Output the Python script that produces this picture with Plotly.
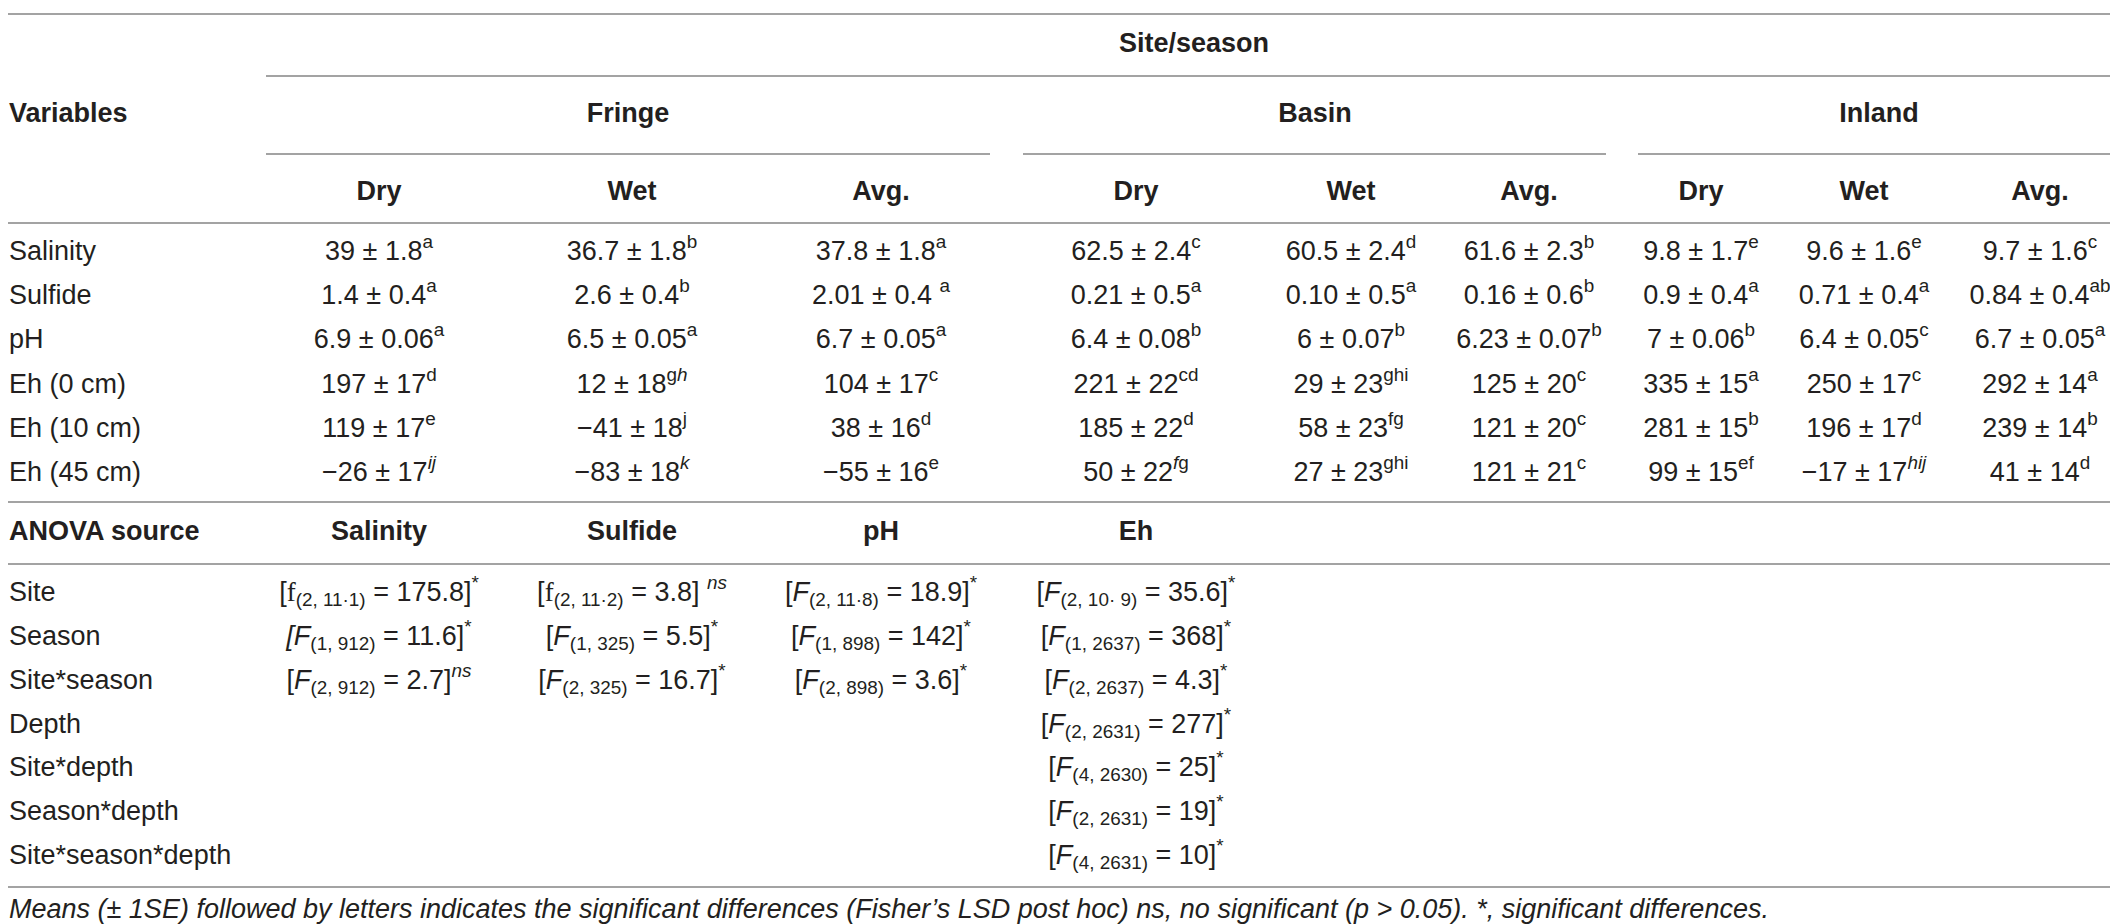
import plotly.graph_objects as go

# ---- data ----
variables = ["Salinity", "Sulfide", "pH", "Eh (0 cm)", "Eh (10 cm)", "Eh (45 cm)"]
sites = ["Fringe", "Basin", "Inland"]
seasons = ["Dry", "Wet", "Avg."]

fringe_dry = ["39 ± 1.8<sup>a</sup>", "1.4 ± 0.4<sup>a</sup>", "6.9 ± 0.06<sup>a</sup>",
              "197 ± 17<sup>d</sup>", "119 ± 17<sup>e</sup>", "−26 ± 17<sup><i>ij</i></sup>"]
fringe_wet = ["36.7 ± 1.8<sup>b</sup>", "2.6 ± 0.4<sup>b</sup>", "6.5 ± 0.05<sup>a</sup>",
              "12 ± 18<sup>g<i>h</i></sup>", "−41 ± 18<sup>j</sup>", "−83 ± 18<sup><i>k</i></sup>"]
fringe_avg = ["37.8 ± 1.8<sup>a</sup>", "2.01 ± 0.4 <sup>a</sup>", "6.7 ± 0.05<sup>a</sup>",
              "104 ± 17<sup>c</sup>", "38 ± 16<sup>d</sup>", "−55 ± 16<sup>e</sup>"]
basin_dry = ["62.5 ± 2.4<sup>c</sup>", "0.21 ± 0.5<sup>a</sup>", "6.4 ± 0.08<sup>b</sup>",
             "221 ± 22<sup>cd</sup>", "185 ± 22<sup>d</sup>", "50 ± 22<sup><i>f</i>g</sup>"]
basin_wet = ["60.5 ± 2.4<sup>d</sup>", "0.10 ± 0.5<sup>a</sup>", "6 ± 0.07<sup>b</sup>",
             "29 ± 23<sup>ghi</sup>", "58 ± 23<sup>fg</sup>", "27 ± 23<sup>ghi</sup>"]
basin_avg = ["61.6 ± 2.3<sup>b</sup>", "0.16 ± 0.6<sup>b</sup>", "6.23 ± 0.07<sup>b</sup>",
             "125 ± 20<sup>c</sup>", "121 ± 20<sup>c</sup>", "121 ± 21<sup>c</sup>"]
inland_dry = ["9.8 ± 1.7<sup>e</sup>", "0.9 ± 0.4<sup>a</sup>", "7 ± 0.06<sup>b</sup>",
              "335 ± 15<sup>a</sup>", "281 ± 15<sup>b</sup>", "99 ± 15<sup>ef</sup>"]
inland_wet = ["9.6 ± 1.6<sup>e</sup>", "0.71 ± 0.4<sup>a</sup>", "6.4 ± 0.05<sup>c</sup>",
              "250 ± 17<sup>c</sup>", "196 ± 17<sup>d</sup>", "−17 ± 17<sup><i>hij</i></sup>"]
inland_avg = ["9.7 ± 1.6<sup>c</sup>", "0.84 ± 0.4<sup>ab</sup>", "6.7 ± 0.05<sup>a</sup>",
              "292 ± 14<sup>a</sup>", "239 ± 14<sup>b</sup>", "41 ± 14<sup>d</sup>"]

anova_sources = ["Site", "Season", "Site*season", "Depth", "Site*depth", "Season*depth", "Site*season*depth"]
anova_vars = ["Salinity", "Sulfide", "pH", "Eh"]
SERIF_F = '<span style="font-family:Liberation Serif">f</span>'
anova_salinity = ["[" + SERIF_F + "<sub>(2, 11·1)</sub> = 175.8]<sup>*</sup>",
                  "<i>[F</i><sub>(1, 912)</sub> = 11.6]<sup>*</sup>",
                  "[<i>F</i><sub>(2, 912)</sub> = 2.7]<sup><i>ns</i></sup>", "", "", "", ""]
anova_sulfide = ["[" + SERIF_F + "<sub>(2, 11·2)</sub> = 3.8] <sup><i>ns</i></sup>",
                 "[<i>F</i><sub>(1, 325)</sub> = 5.5]<sup>*</sup>",
                 "[<i>F</i><sub>(2, 325)</sub> = 16.7]<sup>*</sup>", "", "", "", ""]
anova_ph = ["[<i>F</i><sub>(2, 11·8)</sub> = 18.9]<sup>*</sup>",
            "[<i>F</i><sub>(1, 898)</sub> = 142]<sup>*</sup>",
            "[<i>F</i><sub>(2, 898)</sub> = 3.6]<sup>*</sup>", "", "", "", ""]
anova_eh = ["[<i>F</i><sub>(2, 10· 9)</sub> = 35.6]<sup>*</sup>",
            "[<i>F</i><sub>(1, 2637)</sub> = 368]<sup>*</sup>",
            "[<i>F</i><sub>(2, 2637)</sub> = 4.3]<sup>*</sup>",
            "[<i>F</i><sub>(2, 2631)</sub> = 277]<sup>*</sup>",
            "[<i>F</i><sub>(4, 2630)</sub> = 25]<sup>*</sup>",
            "[<i>F</i><sub>(2, 2631)</sub> = 19]<sup>*</sup>",
            "[<i>F</i><sub>(4, 2631)</sub> = 10]<sup>*</sup>"]

footnote = ("Means (± 1SE) followed by letters indicates the significant differences "
            "(Fisher’s LSD post hoc) ns, no significant (p > 0.05). *, significant differences.")

# ---- layout (pixel positions) ----
W, H = 2118, 924
TXT = "#231f20"
RULE = "#a3a3a3"
FONT = "Liberation Sans"
FS = 27

label_x = 1
col_x = [371, 624, 873, 1128, 1343, 1521, 1693, 1856, 2032]
site_x = [620, 1307, 1871]
site_spans = [(258, 982), (1015, 1598), (1630, 2118)]
y_title, y_site, y_season = 37, 107, 185
row_y = [245, 289, 333, 378, 422, 466]
y_anova_head = 525
anova_y = [586, 630, 674, 718, 761, 805, 849]
y_foot = 903
full_rules = [6, 215, 494, 556, 879]
y_site_rule, y_sub_rule = 68, 146

fig = go.Figure()

# rules, drawn as one line trace broken by None gaps
segments = [(0, W, y) for y in full_rules] + [(258, W, y_site_rule)]
segments += [(x0, x1, y_sub_rule) for x0, x1 in site_spans]
rx, ry = [], []
for x0, x1, y in segments:
    rx += [x0, x1, None]
    ry += [y, y, None]
fig.add_trace(go.Scatter(x=rx, y=ry, mode="lines", line=dict(color=RULE, width=2),
                         hoverinfo="skip", showlegend=False))


def add_text(xs, ys, texts, pos="middle center", bold=False, size=FS):
    if bold:
        texts = ["<b>" + t + "</b>" if t else t for t in texts]
    fig.add_trace(go.Scatter(x=xs, y=ys, mode="text", text=texts, textposition=pos,
                             textfont=dict(family=FONT, size=size, color=TXT),
                             hoverinfo="skip", showlegend=False))


# headers
add_text([1186], [y_title], ["Site/season"], bold=True)
add_text([label_x], [y_site], ["Variables"], pos="middle right", bold=True)
add_text(site_x, [y_site] * 3, sites, bold=True)
add_text(col_x, [y_season] * 9, seasons * 3, bold=True)

# body
add_text([label_x] * len(variables), row_y, variables, pos="middle right")
columns = [fringe_dry, fringe_wet, fringe_avg, basin_dry, basin_wet, basin_avg,
           inland_dry, inland_wet, inland_avg]
for cx, col in zip(col_x, columns):
    add_text([cx] * len(col), row_y, col)

# anova
add_text([label_x], [y_anova_head], ["ANOVA source"], pos="middle right", bold=True)
add_text(col_x[:4], [y_anova_head] * 4, anova_vars, bold=True)
add_text([label_x] * len(anova_sources), anova_y, anova_sources, pos="middle right")
for cx, col in zip(col_x[:4], [anova_salinity, anova_sulfide, anova_ph, anova_eh]):
    add_text([cx] * len(col), anova_y, col)

# footnote
add_text([label_x], [y_foot], ["<i>" + footnote + "</i>"], pos="middle right", size=27)

fig.update_layout(
    width=W, height=H,
    margin=dict(l=0, r=0, t=0, b=0),
    paper_bgcolor="white", plot_bgcolor="white",
    xaxis=dict(range=[0, W], visible=False, fixedrange=True),
    yaxis=dict(range=[H, 0], visible=False, fixedrange=True),
)

fig.write_html("out.html")
